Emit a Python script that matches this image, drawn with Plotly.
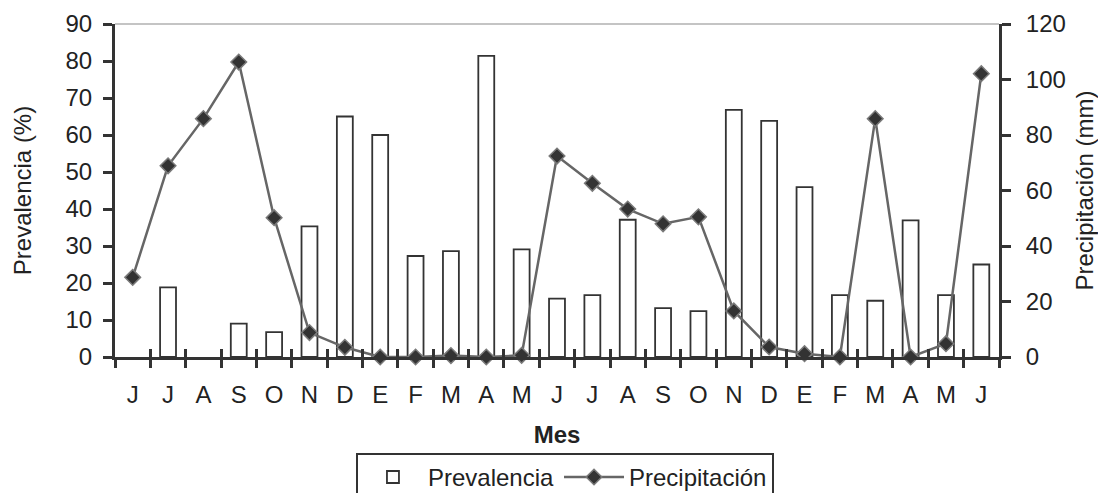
import plotly.graph_objects as go

months = ["J", "J", "A", "S", "O", "N", "D", "E", "F", "M", "A", "M",
          "J", "J", "A", "S", "O", "N", "D", "E", "F", "M", "A", "M", "J"]
# None = no bar drawn for that month
prevalencia = [None, 18.8, None, 9.0, 6.7, 35.3, 65.0, 60.0, 27.3, 28.6, 81.4, 29.1,
               15.8, 16.7, 37.1, 13.2, 12.4, 66.8, 63.8, 45.9, 16.7, 15.2, 36.9, 16.7, 25.0]
precipitacion = [28.7, 68.9, 85.9, 106.3, 50.2, 8.8, 3.5, 0.0, 0.0, 0.5, 0.0, 0.6,
                 72.4, 62.6, 53.3, 48.0, 50.5, 16.6, 3.6, 1.2, 0.0, 85.9, 0.0, 4.8, 102.1]

x = list(range(len(months)))
bounds = [i - 0.5 for i in range(len(months) + 1)]

FONT = "Liberation Sans, Arial, sans-serif"
DARK = "#333333"
TXT = "#222222"
FS = 24

fig = go.Figure()
fig.add_trace(go.Bar(
    x=x, y=prevalencia, name="Prevalencia", width=0.45,
    marker=dict(color="white", line=dict(color=DARK, width=1.8)),
    yaxis="y",
))
fig.add_trace(go.Scatter(
    x=x, y=precipitacion, name="Precipitación", mode="lines+markers",
    line=dict(color="#666666", width=2.5),
    marker=dict(symbol="diamond", size=12, color=DARK,
                line=dict(color="#7a7a7a", width=1.5)),
    yaxis="y2", cliponaxis=False,
))
# helper trace for the overlaid tick axis (inner half of cross ticks)
fig.add_trace(go.Scatter(x=[0], y=[0], xaxis="x2", yaxis="y", mode="markers",
                         marker=dict(opacity=0), showlegend=False, hoverinfo="skip"))

fig.update_layout(
    width=1098, height=493,
    margin=dict(l=115, r=99, t=24, b=136, autoexpand=False),
    paper_bgcolor="white", plot_bgcolor="white",
    font=dict(family=FONT, size=FS, color=TXT),
    showlegend=True,
    legend=dict(orientation="h", x=0.509, xanchor="center", y=-0.288, yanchor="top",
                bordercolor=DARK, borderwidth=2, font=dict(size=FS),
                itemwidth=60, traceorder="normal"),
    xaxis=dict(
        range=[-0.5, len(months) - 0.5], tickmode="array", tickvals=x, ticktext=months,
        ticks="", showgrid=False, zeroline=False, automargin=False,
        showline=True, linecolor=DARK, linewidth=3,
        ticklabelstandoff=14,
        minor=dict(tickmode="array", tickvals=bounds, ticks="outside", ticklen=8,
                   tickwidth=2.5, tickcolor=DARK, showgrid=False),
        title=dict(text="<b>Mes</b>", font=dict(size=FS, color=TXT), standoff=20),
    ),
    xaxis2=dict(
        overlaying="x", anchor="y", side="bottom",
        range=[-0.5, len(months) - 0.5], tickmode="array", tickvals=bounds,
        ticks="inside", ticklen=8, tickwidth=2.5, tickcolor=DARK,
        showticklabels=False, showgrid=False, zeroline=False, showline=False,
    ),
    yaxis=dict(
        range=[0, 90], tickmode="linear", tick0=0, dtick=10, automargin=False,
        ticks="outside", ticklen=9, tickwidth=2.5, tickcolor=DARK,
        showline=True, linecolor=DARK, linewidth=3, showgrid=False, zeroline=False,
        ticklabelstandoff=6,
        title=dict(text="Prevalencia (%)", font=dict(size=FS, color=TXT), standoff=28),
    ),
    yaxis2=dict(
        range=[0, 120], tickmode="linear", tick0=0, dtick=20, automargin=False,
        overlaying="y", side="right", anchor="x",
        ticks="outside", ticklen=9, tickwidth=2.5, tickcolor=DARK,
        showline=True, linecolor=DARK, linewidth=3, showgrid=False, zeroline=False,
        ticklabelstandoff=10,
        title=dict(text="Precipitación (mm)", font=dict(size=FS, color=TXT), standoff=14),
    ),
    shapes=[dict(type="line", xref="paper", yref="paper", x0=0, x1=1, y0=1, y1=1,
                 line=dict(color="#b0b0b0", width=1.5), layer="below")],
)

fig.write_html("out.html")
